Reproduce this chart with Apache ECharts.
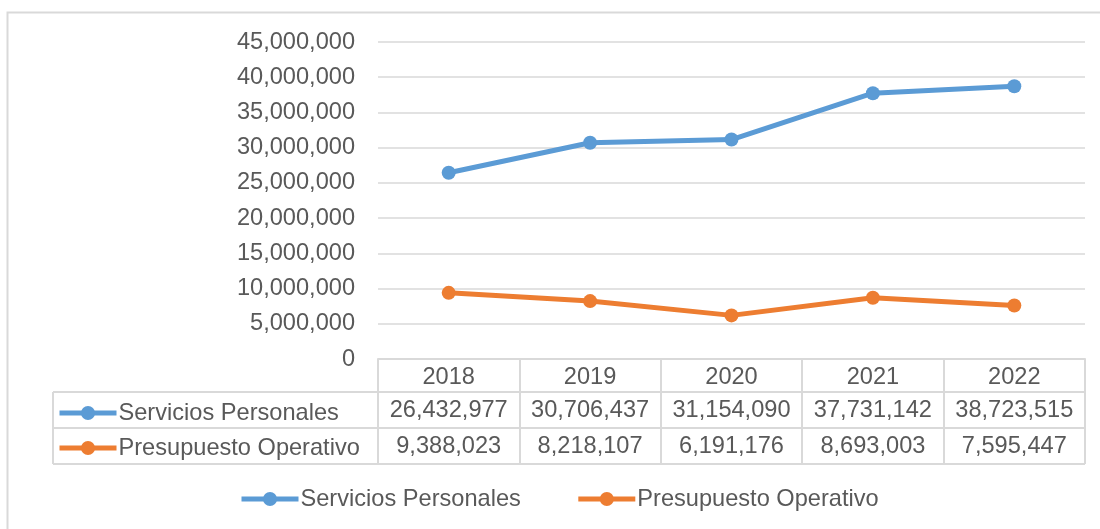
<!DOCTYPE html>
<html>
<head>
<meta charset="utf-8">
<script src="https://cdn.jsdelivr.net/npm/echarts@6/dist/echarts.min.js"></script>
<style>html,body{margin:0;padding:0;background:#fff}#c{width:1100px;height:529px}</style>
</head>
<body>
<div id="c"></div>
<script>
const categories = ['2018', '2019', '2020', '2021', '2022'];
const seriesNames = ['Servicios Personales', 'Presupuesto Operativo'];
const serviciosPersonales = [26432977, 30706437, 31154090, 37731142, 38723515];
const presupuestoOperativo = [9388023, 8218107, 6191176, 8693003, 7595447];
const yMin = 0, yMax = 45000000, yInterval = 5000000;

const fmt = v => Number(v).toLocaleString('en-US');
const FONT = 'Liberation Sans, Arial, sans-serif';
const TXT = '#595959';
const LINE = '#d9d9d9';
const BLUE = '#5b9bd5';
const ORANGE = '#ed7d31';

// layout
const G = {left: 378, right: 1085, top: 42, bottom: 359};
const rowY = [392, 428, 464];
const tableLeft = 53;

const chart = echarts.init(document.getElementById('c'), null, {renderer: 'canvas'});

const labelStyle = {fontSize: 23.6, color: TXT, fontFamily: FONT};
const legendCommon = {
  itemWidth: 57, itemHeight: 17.5, padding: 0,
  lineStyle: {width: 5},
  textStyle: Object.assign({padding: [0, 0, 0, -3]}, labelStyle)
};

const option = {
  animation: false,
  backgroundColor: '#fff',
  grid: {left: G.left, right: 1100 - G.right, top: G.top, bottom: 529 - G.bottom},
  xAxis: [
    {
      type: 'category', data: categories, boundaryGap: true,
      axisLine: {show: true, lineStyle: {color: LINE, width: 2}},
      axisTick: {show: true, alignWithLabel: false, interval: 0, length: rowY[2] - G.bottom, lineStyle: {color: LINE, width: 2}},
      axisLabel: Object.assign({margin: 6, interval: 0}, labelStyle),
      splitLine: {show: false}
    },
    {
      type: 'category', data: serviciosPersonales.map(fmt), position: 'bottom', offset: rowY[0] - G.bottom,
      axisLine: {show: false}, axisTick: {show: false},
      axisLabel: Object.assign({margin: 6, interval: 0}, labelStyle)
    },
    {
      type: 'category', data: presupuestoOperativo.map(fmt), position: 'bottom', offset: rowY[1] - G.bottom,
      axisLine: {show: false}, axisTick: {show: false},
      axisLabel: Object.assign({margin: 6, interval: 0}, labelStyle)
    }
  ],
  yAxis: {
    type: 'value', min: yMin, max: yMax, interval: yInterval,
    axisLine: {show: false}, axisTick: {show: false},
    axisLabel: Object.assign({margin: 23, formatter: v => fmt(v)}, labelStyle),
    splitLine: {lineStyle: {color: LINE, width: 1.5}}
  },
  legend: [
    Object.assign({data: seriesNames, left: 239, top: 487, itemGap: 55}, legendCommon),
    Object.assign({data: [seriesNames[0]], left: 57, top: 401}, legendCommon),
    Object.assign({data: [seriesNames[1]], left: 57, top: 436}, legendCommon)
  ],
  series: [
    {
      name: seriesNames[0], type: 'line', data: serviciosPersonales,
      symbol: 'circle', symbolSize: 14,
      lineStyle: {color: BLUE, width: 5}, itemStyle: {color: BLUE}
    },
    {
      name: seriesNames[1], type: 'line', data: presupuestoOperativo,
      symbol: 'circle', symbolSize: 14,
      lineStyle: {color: ORANGE, width: 5}, itemStyle: {color: ORANGE}
    }
  ],
  graphic: [
    {type: 'rect', shape: {x: 7.5, y: 12.5, width: 1200, height: 600}, style: {fill: 'none', stroke: LINE, lineWidth: 2}, silent: true},
    {type: 'line', shape: {x1: tableLeft, y1: rowY[0], x2: G.right, y2: rowY[0]}, style: {stroke: LINE, lineWidth: 2}},
    {type: 'line', shape: {x1: tableLeft, y1: rowY[1], x2: G.right, y2: rowY[1]}, style: {stroke: LINE, lineWidth: 2}},
    {type: 'line', shape: {x1: tableLeft, y1: rowY[2], x2: G.right, y2: rowY[2]}, style: {stroke: LINE, lineWidth: 2}},
    {type: 'line', shape: {x1: tableLeft, y1: rowY[0], x2: tableLeft, y2: rowY[2]}, style: {stroke: LINE, lineWidth: 2}}
  ]
};
chart.setOption(option);
</script>
</body>
</html>
